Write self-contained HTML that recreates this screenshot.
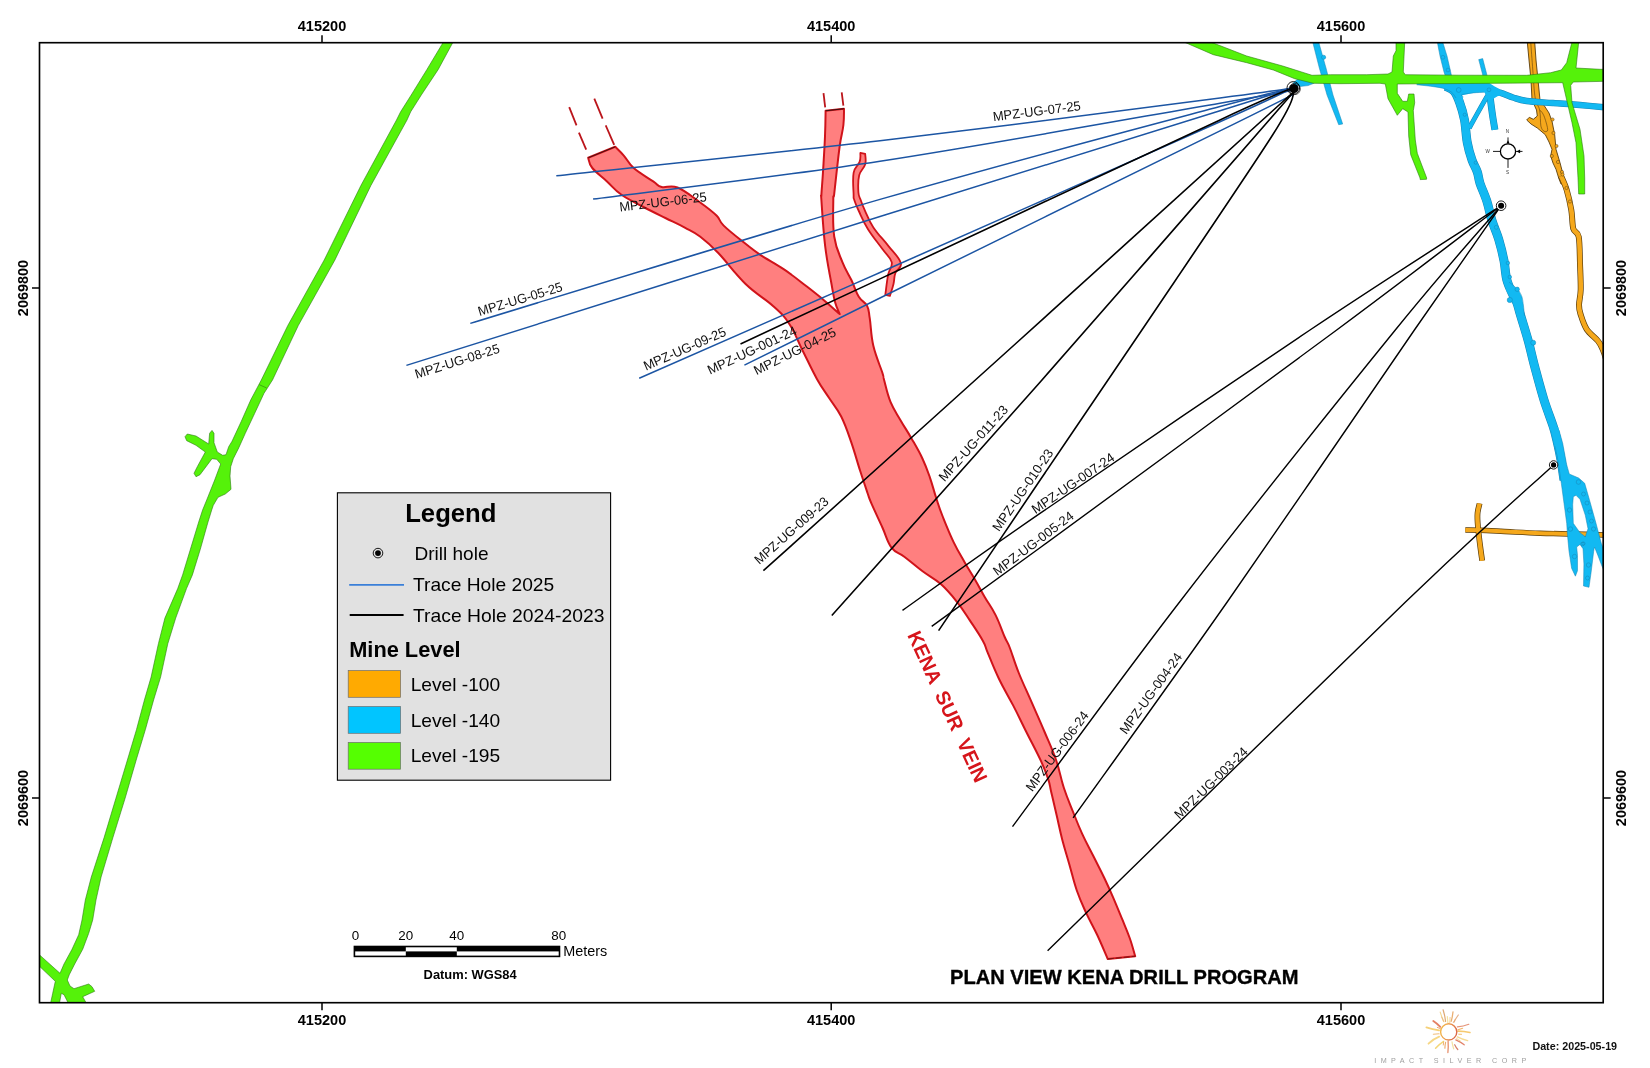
<!DOCTYPE html>
<html><head><meta charset="utf-8"><title>Plan View Kena Drill Program</title>
<style>html,body{margin:0;padding:0;background:#fff;}body{width:1650px;height:1068px;overflow:hidden;}svg{display:block;}text{font-family:"Liberation Sans",sans-serif;}</style>
</head><body>
<svg width="1650" height="1068" viewBox="0 0 1650 1068">
<rect x="0" y="0" width="1650" height="1068" fill="#ffffff"/>
<g style="opacity:0.999">
<defs><clipPath id="fc"><rect x="39.5" y="42.7" width="1563.7" height="960.0"/></clipPath></defs>
<g clip-path="url(#fc)">
<g id="orange">
<polygon points="1527.3,42.0 1529.0,60.0 1531.0,80.0 1532.0,100.0 1536.5,110.0 1537.3,116.0 1533.3,119.3 1529.3,117.3 1526.7,120.0 1531.0,124.0 1537.3,128.0 1545.3,134.7 1549.0,142.0 1552.0,149.3 1550.7,156.0 1553.0,163.0 1556.0,169.3 1558.7,178.0 1561.0,184.0 1566.0,184.0 1564.0,178.0 1560.0,162.7 1556.0,149.3 1554.7,134.7 1552.0,121.3 1549.0,113.0 1544.0,105.3 1540.0,100.0 1538.0,80.0 1536.0,60.0 1534.7,42.0" fill="#f5a81c" stroke="#5a3d0c" stroke-width="0.9" stroke-linejoin="round"/>
<path d="M1530.8 43.0 C1531.1 47.5 1532.1 60.8 1532.8 70.0 C1533.5 79.2 1534.0 91.3 1535.2 98.0 C1536.4 104.7 1538.8 105.7 1539.7 110.4 C1540.7 115.1 1540.2 122.6 1540.9 126.1 C1541.7 129.6 1543.1 130.7 1544.2 131.3 C1545.3 131.9 1547.6 132.1 1547.7 129.8 C1547.8 127.6 1545.7 120.8 1544.7 117.8 C1543.7 114.8 1542.5 113.1 1541.7 111.9 C1540.9 110.7 1540.0 110.7 1539.7 110.4" fill="none" stroke="#5a3d0c" stroke-width="0.6"/>
<path d="M1561.0 176.0 C1562.0 178.3 1565.0 184.3 1566.7 190.0 C1568.4 195.7 1570.2 203.6 1571.3 210.0 C1572.4 216.4 1572.1 224.2 1573.3 228.7 C1574.5 233.1 1577.6 230.9 1578.7 236.7 C1579.8 242.5 1579.7 254.4 1580.0 263.3 C1580.3 272.2 1580.9 283.1 1580.7 290.0 C1580.5 296.9 1579.0 301.0 1579.0 305.0 C1579.0 309.0 1579.2 309.9 1580.5 314.0 C1581.8 318.1 1583.8 324.8 1586.7 329.3 C1589.6 333.8 1595.3 337.6 1598.0 341.0 C1600.7 344.4 1601.5 346.5 1603.0 350.0 C1604.5 353.5 1606.3 360.0 1607.0 362.0" fill="none" stroke="#5a3d0c" stroke-width="6.0" stroke-linecap="butt" stroke-linejoin="round"/>
<path d="M1561.0 176.0 C1562.0 178.3 1565.0 184.3 1566.7 190.0 C1568.4 195.7 1570.2 203.6 1571.3 210.0 C1572.4 216.4 1572.1 224.2 1573.3 228.7 C1574.5 233.1 1577.6 230.9 1578.7 236.7 C1579.8 242.5 1579.7 254.4 1580.0 263.3 C1580.3 272.2 1580.9 283.1 1580.7 290.0 C1580.5 296.9 1579.0 301.0 1579.0 305.0 C1579.0 309.0 1579.2 309.9 1580.5 314.0 C1581.8 318.1 1583.8 324.8 1586.7 329.3 C1589.6 333.8 1595.3 337.6 1598.0 341.0 C1600.7 344.4 1601.5 346.5 1603.0 350.0 C1604.5 353.5 1606.3 360.0 1607.0 362.0" fill="none" stroke="#f5a81c" stroke-width="4.6" stroke-linecap="butt" stroke-linejoin="round"/>
<circle cx="1552.5" cy="119.5" r="1.6" fill="#f5a81c" stroke="#5a3d0c" stroke-width="0.5"/>
<circle cx="1553.5" cy="133.0" r="1.6" fill="#f5a81c" stroke="#5a3d0c" stroke-width="0.5"/>
<circle cx="1556.5" cy="146.0" r="1.6" fill="#f5a81c" stroke="#5a3d0c" stroke-width="0.5"/>
<circle cx="1551.8" cy="156.0" r="1.6" fill="#f5a81c" stroke="#5a3d0c" stroke-width="0.5"/>
<circle cx="1558.0" cy="162.0" r="1.6" fill="#f5a81c" stroke="#5a3d0c" stroke-width="0.5"/>
<circle cx="1562.0" cy="172.0" r="1.6" fill="#f5a81c" stroke="#5a3d0c" stroke-width="0.5"/>
<circle cx="1562.5" cy="174.5" r="1.6" fill="#f5a81c" stroke="#5a3d0c" stroke-width="0.5"/>
<circle cx="1566.5" cy="188.0" r="1.6" fill="#f5a81c" stroke="#5a3d0c" stroke-width="0.5"/>
<circle cx="1570.0" cy="201.5" r="1.6" fill="#f5a81c" stroke="#5a3d0c" stroke-width="0.5"/>
<path d="M1465.3 530.0 C1467.8 530.0 1472.5 529.9 1480.0 530.2 C1487.5 530.5 1500.0 531.3 1510.0 531.8 C1520.0 532.3 1529.2 532.8 1540.0 533.2 C1550.8 533.6 1564.0 533.7 1575.0 534.0 C1586.0 534.3 1600.8 534.8 1606.0 535.0" fill="none" stroke="#5a3d0c" stroke-width="5.4" stroke-linecap="butt" stroke-linejoin="round"/>
<path d="M1479.6 503.5 C1479.3 505.0 1477.9 509.6 1477.6 512.7 C1477.3 515.8 1477.4 518.8 1477.6 522.0 C1477.8 525.2 1478.1 528.2 1478.5 532.0 C1478.9 535.8 1479.4 539.9 1480.0 544.7 C1480.6 549.5 1481.8 558.0 1482.2 560.7" fill="none" stroke="#5a3d0c" stroke-width="5.8" stroke-linecap="butt" stroke-linejoin="round"/>
<path d="M1465.3 530.0 C1467.8 530.0 1472.5 529.9 1480.0 530.2 C1487.5 530.5 1500.0 531.3 1510.0 531.8 C1520.0 532.3 1529.2 532.8 1540.0 533.2 C1550.8 533.6 1564.0 533.7 1575.0 534.0 C1586.0 534.3 1600.8 534.8 1606.0 535.0" fill="none" stroke="#f5a81c" stroke-width="4.0" stroke-linecap="butt" stroke-linejoin="round"/>
<path d="M1479.6 503.5 C1479.3 505.0 1477.9 509.6 1477.6 512.7 C1477.3 515.8 1477.4 518.8 1477.6 522.0 C1477.8 525.2 1478.1 528.2 1478.5 532.0 C1478.9 535.8 1479.4 539.9 1480.0 544.7 C1480.6 549.5 1481.8 558.0 1482.2 560.7" fill="none" stroke="#f5a81c" stroke-width="4.4" stroke-linecap="butt" stroke-linejoin="round"/>
</g>
<g id="blue">
<polygon points="1297.3,79.5 1292.8,83.3 1300.0,86.5 1308.0,85.6 1314.0,83.3 1310.0,79.0" fill="#12b9f2" stroke="#1784b4" stroke-width="0.5" stroke-linejoin="round"/>
<polygon points="1312.7,42.0 1319.3,68.0 1327.0,95.0 1338.7,124.7 1342.7,124.0 1333.0,95.0 1326.0,68.0 1318.7,42.0" fill="#12b9f2" stroke="#1784b4" stroke-width="0.5" stroke-linejoin="round"/>
<circle cx="1323.6" cy="57.3" r="2.1" fill="#12b9f2" stroke="#1784b4" stroke-width="0.5"/>
<polygon points="1437.3,42.0 1440.0,56.0 1444.0,72.0 1446.0,78.0 1452.0,78.0 1450.7,72.0 1447.0,56.0 1442.7,42.0" fill="#12b9f2" stroke="#1784b4" stroke-width="0.5" stroke-linejoin="round"/>
<circle cx="1442.9" cy="57.3" r="1.9" fill="#12b9f2" stroke="#1784b4" stroke-width="0.5"/>
<circle cx="1448" cy="70" r="1.9" fill="#12b9f2" stroke="#1784b4" stroke-width="0.5"/>
<polygon points="1478.7,59.6 1482.7,58.6 1486.7,74.0 1487.5,78.0 1483.3,78.0 1482.5,74.0" fill="#12b9f2" stroke="#1784b4" stroke-width="0.5" stroke-linejoin="round"/>
<path d="M1446.0 86.5 C1447.3 87.2 1451.7 88.3 1454.0 91.0 C1456.3 93.7 1458.0 97.9 1459.7 102.7 C1461.5 107.5 1463.2 113.3 1464.5 120.0 C1465.8 126.7 1466.0 136.0 1467.3 142.7 C1468.5 149.4 1470.3 155.1 1472.0 160.0 C1473.7 164.9 1476.0 168.1 1477.3 172.0 C1478.6 175.9 1478.4 178.5 1480.0 183.3 C1481.6 188.1 1484.7 194.5 1486.7 200.7 C1488.7 206.9 1490.0 214.3 1492.0 220.7 C1494.0 227.1 1496.7 232.6 1498.7 239.3 C1500.7 246.0 1502.7 254.0 1504.0 260.7 C1505.3 267.4 1505.3 273.8 1506.7 279.3 C1508.1 284.9 1510.8 290.1 1512.5 294.0 C1514.2 297.9 1515.8 299.8 1517.0 303.0 C1518.2 306.2 1518.2 307.1 1520.0 313.3 C1521.8 319.5 1525.5 331.1 1528.0 340.0 C1530.5 348.9 1532.0 356.7 1534.7 366.7 C1537.4 376.7 1540.9 390.0 1544.0 400.0 C1547.1 410.0 1551.0 419.5 1553.3 426.7 C1555.5 433.9 1556.2 437.4 1557.5 443.0 C1558.8 448.6 1559.9 453.8 1561.0 460.0 C1562.1 466.2 1563.5 476.7 1564.0 480.0" fill="none" stroke="#1784b4" stroke-width="9.0" stroke-linecap="butt" stroke-linejoin="round"/>
<path d="M1486.0 90.5 C1488.3 90.9 1495.5 91.5 1500.0 92.7 C1504.5 93.9 1508.5 96.1 1513.0 97.5 C1517.5 98.9 1520.0 100.1 1526.7 101.0 C1533.4 101.9 1544.1 102.3 1553.0 103.0 C1561.9 103.7 1571.2 104.2 1580.0 105.0 C1588.8 105.8 1601.7 107.1 1606.0 107.5" fill="none" stroke="#1784b4" stroke-width="6.4" stroke-linecap="butt" stroke-linejoin="round"/>
<path d="M1490.5 90.5 C1488.9 93.2 1484.5 100.8 1481.0 107.0 C1477.5 113.2 1471.2 124.5 1469.3 128.0" fill="none" stroke="#1784b4" stroke-width="4.8" stroke-linecap="butt" stroke-linejoin="round"/>
<path d="M1489.5 90.0 C1489.7 91.7 1490.0 95.8 1490.5 100.0 C1491.0 104.2 1491.8 110.0 1492.5 115.0 C1493.2 120.0 1494.5 127.3 1494.9 129.8" fill="none" stroke="#1784b4" stroke-width="7.0" stroke-linecap="butt" stroke-linejoin="round"/>
<path d="M1446.0 86.5 C1447.3 87.2 1451.7 88.3 1454.0 91.0 C1456.3 93.7 1458.0 97.9 1459.7 102.7 C1461.5 107.5 1463.2 113.3 1464.5 120.0 C1465.8 126.7 1466.0 136.0 1467.3 142.7 C1468.5 149.4 1470.3 155.1 1472.0 160.0 C1473.7 164.9 1476.0 168.1 1477.3 172.0 C1478.6 175.9 1478.4 178.5 1480.0 183.3 C1481.6 188.1 1484.7 194.5 1486.7 200.7 C1488.7 206.9 1490.0 214.3 1492.0 220.7 C1494.0 227.1 1496.7 232.6 1498.7 239.3 C1500.7 246.0 1502.7 254.0 1504.0 260.7 C1505.3 267.4 1505.3 273.8 1506.7 279.3 C1508.1 284.9 1510.8 290.1 1512.5 294.0 C1514.2 297.9 1515.8 299.8 1517.0 303.0 C1518.2 306.2 1518.2 307.1 1520.0 313.3 C1521.8 319.5 1525.5 331.1 1528.0 340.0 C1530.5 348.9 1532.0 356.7 1534.7 366.7 C1537.4 376.7 1540.9 390.0 1544.0 400.0 C1547.1 410.0 1551.0 419.5 1553.3 426.7 C1555.5 433.9 1556.2 437.4 1557.5 443.0 C1558.8 448.6 1559.9 453.8 1561.0 460.0 C1562.1 466.2 1563.5 476.7 1564.0 480.0" fill="none" stroke="#12b9f2" stroke-width="8.0" stroke-linecap="butt" stroke-linejoin="round"/>
<path d="M1486.0 90.5 C1488.3 90.9 1495.5 91.5 1500.0 92.7 C1504.5 93.9 1508.5 96.1 1513.0 97.5 C1517.5 98.9 1520.0 100.1 1526.7 101.0 C1533.4 101.9 1544.1 102.3 1553.0 103.0 C1561.9 103.7 1571.2 104.2 1580.0 105.0 C1588.8 105.8 1601.7 107.1 1606.0 107.5" fill="none" stroke="#12b9f2" stroke-width="5.4" stroke-linecap="butt" stroke-linejoin="round"/>
<path d="M1490.5 90.5 C1488.9 93.2 1484.5 100.8 1481.0 107.0 C1477.5 113.2 1471.2 124.5 1469.3 128.0" fill="none" stroke="#12b9f2" stroke-width="3.8" stroke-linecap="butt" stroke-linejoin="round"/>
<path d="M1489.5 90.0 C1489.7 91.7 1490.0 95.8 1490.5 100.0 C1491.0 104.2 1491.8 110.0 1492.5 115.0 C1493.2 120.0 1494.5 127.3 1494.9 129.8" fill="none" stroke="#12b9f2" stroke-width="6.0" stroke-linecap="butt" stroke-linejoin="round"/>
<polygon points="1416.7,82.7 1416.7,84.8 1430.7,86.3 1442.7,88.3 1451.3,92.0 1457.3,100.0 1463.2,100.0 1462.2,95.3 1473.3,92.9 1484.0,92.3 1486.7,95.3 1493.3,98.7 1498.0,96.0 1500.0,96.0 1500.0,89.3 1494.7,86.4 1489.3,82.9" fill="#12b9f2"/>
<path d="M1416.7 84.8 C1419.0 85.0 1426.4 85.7 1430.7 86.3 C1435.0 86.9 1439.3 87.3 1442.7 88.3 C1446.1 89.2 1449.1 90.4 1451.3 92.0 C1453.5 93.6 1455.2 97.0 1456.0 98.0" fill="none" stroke="#1784b4" stroke-width="0.5"/>
<path d="M1463.5 97.0 C1463.2 96.6 1460.2 95.4 1461.8 94.7 C1463.4 94.0 1469.6 93.3 1473.3 92.9 C1477.0 92.5 1482.2 92.4 1484.0 92.3" fill="none" stroke="#1784b4" stroke-width="0.5"/>
<polygon points="1509.0,283.0 1514.0,286.0 1519.0,291.0 1522.0,297.0 1523.5,306.0 1524.0,314.0 1519.0,314.0 1512.0,300.0 1506.0,290.0" fill="#12b9f2"/>
<path d="M1509.0 282.0 C1509.8 282.7 1512.3 284.5 1514.0 286.0 C1515.7 287.5 1517.7 289.2 1519.0 291.0 C1520.3 292.8 1521.2 294.5 1522.0 297.0 C1522.8 299.5 1523.1 302.8 1523.5 306.0 C1523.9 309.2 1524.3 314.3 1524.5 316.0" fill="none" stroke="#1784b4" stroke-width="0.5"/>
<circle cx="1458.7" cy="90.0" r="2.4" fill="#12b9f2" stroke="#1784b4" stroke-width="0.5"/>
<circle cx="1489.0" cy="89.8" r="1.9" fill="#12b9f2" stroke="#1784b4" stroke-width="0.5"/>
<circle cx="1464.7" cy="114.7" r="1.6" fill="#12b9f2" stroke="#1784b4" stroke-width="0.5"/>
<circle cx="1475.7" cy="162.7" r="1.6" fill="#12b9f2" stroke="#1784b4" stroke-width="0.5"/>
<circle cx="1496.3" cy="227.3" r="2.0" fill="#12b9f2" stroke="#1784b4" stroke-width="0.5"/>
<circle cx="1507.9" cy="263.0" r="1.8" fill="#12b9f2" stroke="#1784b4" stroke-width="0.5"/>
<circle cx="1509.8" cy="277.0" r="1.8" fill="#12b9f2" stroke="#1784b4" stroke-width="0.5"/>
<circle cx="1517.2" cy="289.3" r="2.2" fill="#12b9f2" stroke="#1784b4" stroke-width="0.5"/>
<circle cx="1509.8" cy="300.0" r="2.6" fill="#12b9f2" stroke="#1784b4" stroke-width="0.5"/>
<circle cx="1533.2" cy="342.7" r="2.5" fill="#12b9f2" stroke="#1784b4" stroke-width="0.5"/>
<path d="M1551.0 430.0 L1554.0 443.0 L1557.3 456.7 L1561.3 483.3 L1564.0 503.3 L1566.7 523.3 L1567.4 534.2 L1569.0 551.2 L1571.6 568.2 L1575.4 576.2 L1577.5 570.7 L1577.5 555.4 L1576.7 547.0 L1580.0 544.4 L1583.0 548.7 L1583.9 563.9 L1583.5 586.0 L1589.0 587.3 L1591.1 572.4 L1593.7 551.2 L1594.5 547.0 L1597.9 555.4 L1602.1 566.5 L1608.0 580.0 L1608.0 560.0 L1601.3 543.3 L1596.0 523.3 L1589.3 499.3 L1584.7 483.3 L1578.7 478.0 L1569.3 474.0 L1566.7 464.7 L1562.7 443.3 L1559.0 430.0Z M1576.0 495.3 L1580.0 499.3 L1585.3 515.3 L1588.0 528.7 L1585.3 536.7 L1580.0 532.7 L1573.3 523.3 L1572.7 504.7 L1573.3 496.7Z" fill="#12b9f2" fill-rule="evenodd" stroke="#1784b4" stroke-width="0.5" stroke-linejoin="round"/>
<polygon points="1550.2,427.0 1558.2,427.0 1562.2,446.0 1554.6,446.0" fill="#12b9f2"/>
<circle cx="1578.5" cy="482.0" r="2.3" fill="none" stroke="#1784b4" stroke-width="0.5"/>
<circle cx="1583.5" cy="494.0" r="2.0" fill="none" stroke="#1784b4" stroke-width="0.5"/>
<circle cx="1587.0" cy="503.0" r="2.0" fill="none" stroke="#1784b4" stroke-width="0.5"/>
<circle cx="1590.0" cy="512.0" r="2.0" fill="none" stroke="#1784b4" stroke-width="0.5"/>
<circle cx="1591.5" cy="521.0" r="2.0" fill="none" stroke="#1784b4" stroke-width="0.5"/>
<circle cx="1593.5" cy="529.0" r="2.1" fill="none" stroke="#1784b4" stroke-width="0.5"/>
<circle cx="1569.5" cy="510.0" r="2.2" fill="none" stroke="#1784b4" stroke-width="0.5"/>
<circle cx="1570.5" cy="529.0" r="2.2" fill="none" stroke="#1784b4" stroke-width="0.5"/>
<circle cx="1574.5" cy="556.5" r="2.2" fill="none" stroke="#1784b4" stroke-width="0.5"/>
<circle cx="1582.5" cy="544.0" r="1.8" fill="none" stroke="#1784b4" stroke-width="0.5"/>
<circle cx="1588.5" cy="565.0" r="2.2" fill="none" stroke="#1784b4" stroke-width="0.5"/>
<circle cx="1587.5" cy="578.0" r="2.0" fill="none" stroke="#1784b4" stroke-width="0.5"/>
<circle cx="1583.5" cy="543.5" r="1.6" fill="none" stroke="#1784b4" stroke-width="0.5"/>
</g>
<g id="green">
<polygon points="443.4,42.0 426.8,69.7 411.2,95.0 400.6,111.8 396.5,120.0 360.9,185.5 324.2,260.0 287.8,325.5 261.3,380.0 250.7,400.0 241.3,421.3 232.0,441.3 228.7,446.7 226.0,454.7 222.7,455.3 217.3,452.0 214.0,442.7 214.0,433.3 212.0,430.4 209.6,433.3 208.7,444.0 196.0,436.0 187.3,434.0 185.0,436.7 186.7,440.7 196.0,445.3 205.3,452.0 197.3,466.7 194.0,473.3 196.0,476.7 200.0,474.7 212.0,458.7 216.7,459.3 220.7,464.0 214.7,480.0 206.7,500.0 202.6,510.0 198.7,522.0 190.4,549.3 182.6,574.9 177.7,588.6 164.9,618.1 158.4,643.7 151.1,677.1 144.4,700.0 136.5,729.5 127.7,759.0 115.9,798.3 104.1,837.6 91.3,877.0 85.3,900.0 82.0,920.0 78.7,934.7 72.0,949.3 64.0,964.0 60.0,973.3 38.0,953.5 38.0,964.9 55.3,981.3 52.7,993.3 50.4,1004.0 59.3,1004.0 61.3,993.3 64.0,994.7 68.7,1004.0 86.8,1004.0 82.7,996.7 94.7,991.3 92.0,986.7 88.7,984.0 74.0,988.7 70.0,986.0 67.3,980.0 69.3,974.7 74.7,964.0 82.7,949.3 88.7,933.3 92.7,920.0 96.0,900.0 101.1,877.0 112.9,837.6 125.1,798.3 136.5,759.0 145.4,729.5 153.6,700.0 160.6,677.1 167.8,643.7 175.7,618.1 186.5,588.6 192.4,574.9 200.3,549.3 208.0,522.0 211.7,510.0 213.3,505.3 218.0,497.3 225.3,494.0 231.0,489.3 230.0,476.0 230.7,466.7 233.3,458.7 238.7,448.0 245.3,433.3 254.7,413.3 264.0,393.3 272.5,380.0 298.3,325.5 334.9,260.0 370.9,185.5 407.0,120.0 410.7,111.8 421.3,95.0 438.1,69.7 453.1,42.0" fill="#55f20a" stroke="#2b7a12" stroke-width="0.6" stroke-linejoin="round"/>
<path d="M259.3 384.7 L266.7 388" stroke="#2b7a12" stroke-width="0.6"/>
<polygon points="1184.0,42.0 1210.7,42.0 1246.7,56.0 1282.7,66.0 1312.0,75.3 1330.7,74.7 1366.7,74.7 1388.0,74.0 1392.0,72.0 1393.3,56.0 1396.0,50.7 1396.0,42.0 1404.7,42.0 1403.3,72.0 1405.3,74.7 1460.0,75.2 1526.7,75.3 1550.7,72.7 1561.3,70.0 1566.7,62.7 1572.0,42.0 1578.7,42.0 1576.0,68.0 1600.0,69.3 1606.0,69.3 1606.0,81.3 1573.3,82.0 1570.7,85.3 1572.0,102.7 1580.0,129.3 1584.0,156.0 1584.7,178.0 1584.7,194.0 1578.7,194.0 1578.0,178.0 1576.0,142.7 1572.0,122.7 1566.7,100.0 1562.7,82.7 1480.0,83.4 1397.3,84.0 1397.3,93.3 1402.7,101.3 1407.3,101.3 1408.7,94.0 1414.0,94.0 1414.7,102.7 1413.3,110.7 1415.3,140.0 1417.3,153.3 1426.7,178.0 1426.5,179.3 1420.2,179.6 1420.0,178.0 1410.7,154.7 1408.7,136.0 1408.0,112.0 1402.7,108.7 1397.3,115.3 1388.0,98.7 1385.3,84.0 1380.0,83.3 1340.0,83.7 1313.3,83.3 1294.7,78.7 1273.3,70.0 1246.7,62.7 1213.3,54.7" fill="#55f20a" stroke="#2b7a12" stroke-width="0.6" stroke-linejoin="round"/>
</g>
<g id="vein">
<path d="M588.2 157.8 C589.0 159.8 588.5 163.3 592.3 168.0 C596.1 172.7 601.2 176.0 607.0 181.4 C612.8 186.8 614.2 189.7 621.5 194.8 C628.8 199.9 634.7 202.4 643.5 207.0 C652.3 211.6 657.1 213.9 665.4 218.0 C673.7 222.1 677.9 223.9 684.8 227.6 C691.7 231.3 693.3 231.4 700.0 236.5 C706.7 241.6 709.2 243.5 718.3 253.0 C727.4 262.5 734.7 273.4 745.6 284.0 C756.5 294.6 764.2 297.9 773.0 305.9 C781.8 313.9 783.7 315.4 789.5 324.2 C795.3 333.0 796.7 338.8 802.2 349.7 C807.7 360.6 811.5 369.2 816.9 378.9 C822.3 388.6 824.4 390.8 829.3 398.3 C834.2 405.8 836.8 407.7 841.2 416.5 C845.6 425.3 847.4 431.1 851.2 442.1 C855.0 453.1 857.0 461.1 860.3 471.3 C863.6 481.5 865.4 486.7 867.6 493.2 C869.8 499.7 868.5 496.8 871.5 503.7 C874.5 510.6 878.4 518.7 882.4 527.5 C886.4 536.3 887.1 541.8 891.5 547.6 C895.9 553.4 898.1 552.0 904.3 556.7 C910.5 561.4 915.3 565.8 922.6 571.3 C929.9 576.8 933.9 577.9 940.8 584.1 C947.7 590.3 951.5 595.0 957.3 602.3 C963.1 609.6 964.9 612.9 970.0 620.6 C975.1 628.3 979.2 634.2 982.8 640.7 C986.4 647.2 984.6 645.3 987.8 652.9 C991.0 660.5 993.7 667.9 998.8 678.5 C1003.9 689.1 1007.9 695.3 1013.4 705.9 C1018.9 716.5 1020.6 720.5 1026.1 731.5 C1031.6 742.5 1036.4 751.2 1040.8 760.7 C1045.2 770.2 1046.0 772.7 1048.1 778.9 C1050.2 785.1 1049.5 784.6 1051.2 791.9 C1052.9 799.2 1054.5 806.1 1056.7 815.6 C1058.9 825.1 1059.6 829.5 1062.2 839.4 C1064.8 849.3 1066.6 854.7 1069.5 864.9 C1072.4 875.1 1073.5 881.0 1076.8 890.5 C1080.1 900.0 1081.9 903.6 1085.9 912.4 C1089.9 921.2 1092.5 925.0 1096.9 934.3 C1101.3 943.6 1105.6 954.1 1107.8 959.0 L1135.2 956.2 C1134.1 952.6 1132.3 945.3 1129.7 938.0 C1127.1 930.7 1125.7 927.7 1122.4 919.7 C1119.1 911.7 1116.9 906.2 1113.3 897.8 C1109.7 889.4 1108.2 886.1 1104.2 877.7 C1100.2 869.3 1097.6 864.6 1093.2 855.8 C1088.8 847.0 1086.2 842.7 1082.2 833.9 C1078.2 825.1 1076.7 821.1 1073.1 812.0 C1069.5 802.9 1067.4 798.6 1064.0 788.3 C1060.6 778.0 1060.2 772.1 1056.3 760.7 C1052.4 749.3 1049.3 743.2 1044.4 731.5 C1039.5 719.8 1036.7 713.9 1031.6 702.2 C1026.5 690.5 1023.2 683.9 1018.8 673.0 C1014.4 662.1 1012.5 654.7 1009.7 647.5 C1006.9 640.3 1007.5 643.5 1004.7 637.0 C1001.9 630.5 999.6 623.1 995.6 615.1 C991.6 607.1 988.7 603.8 984.7 596.9 C980.7 590.0 979.5 587.3 975.5 580.4 C971.5 573.5 969.0 569.9 964.6 562.2 C960.2 554.5 958.0 551.2 953.6 542.1 C949.2 533.0 946.2 525.3 942.7 516.5 C939.2 507.7 938.9 506.2 936.3 498.3 C933.7 490.4 932.5 484.8 929.7 476.8 C926.9 468.8 926.0 466.2 922.4 458.5 C918.8 450.8 915.9 446.1 911.5 438.4 C907.1 430.7 904.7 427.5 900.5 420.2 C896.3 412.9 893.8 409.9 890.5 401.9 C887.2 393.9 885.7 385.7 884.1 380.0 C882.5 374.3 884.7 380.3 882.6 373.5 C880.5 366.7 876.0 357.1 873.4 346.1 C870.8 335.1 871.1 326.7 869.8 318.7 C868.5 310.7 869.3 310.3 867.1 305.9 C864.9 301.5 861.9 301.9 858.8 296.8 C855.7 291.7 854.8 287.2 851.5 280.3 C848.2 273.4 845.9 270.9 842.4 262.1 C838.9 253.3 836.0 248.9 834.2 236.5 C832.4 224.1 833.3 208.3 833.3 200.0 C833.3 191.7 833.4 200.7 834.1 194.8 C834.8 188.9 835.6 180.6 836.8 170.4 C838.0 160.2 838.7 153.1 840.0 144.0 C841.3 134.9 842.6 132.1 843.4 125.0 C844.2 117.9 843.9 112.0 844.0 108.7 L825.6 110.8 C825.5 115.9 825.5 124.4 825.0 136.3 C824.5 148.2 823.8 158.7 823.1 170.4 C822.4 182.1 821.7 188.9 821.4 194.8 C821.1 200.7 820.7 189.8 821.4 200.0 C822.1 210.2 823.1 228.8 825.1 245.6 C827.1 262.4 829.5 272.7 831.5 284.0 C833.5 295.3 833.5 296.2 835.1 302.2 C836.7 308.2 838.8 311.7 839.7 314.1 L839.7 314.1 C836.6 311.4 831.0 306.1 824.2 300.4 C817.4 294.7 813.9 292.0 805.9 285.8 C797.9 279.6 793.1 275.6 784.0 269.4 C774.9 263.2 768.0 259.9 760.3 254.8 C752.6 249.7 752.9 249.6 745.6 243.8 C738.3 238.0 729.5 231.3 723.7 225.6 C717.9 219.9 721.3 220.2 716.5 215.5 C711.7 210.8 707.3 207.6 699.5 202.0 C691.7 196.4 685.1 190.5 677.5 187.5 C669.9 184.5 666.6 188.2 661.7 187.0 C656.8 185.8 658.8 185.2 653.2 181.4 C647.6 177.6 639.5 173.1 633.7 168.0 C627.9 162.9 627.7 160.0 624.0 155.8 C620.3 151.6 617.0 148.6 615.2 146.8Z" fill="#ff7f7f" stroke="#d0131a" stroke-width="2.0" stroke-linejoin="round"/>
<path d="M860.4 152.9 C860.2 154.7 861.0 157.9 859.6 161.9 C858.2 165.9 854.8 166.3 853.6 172.9 C852.4 179.5 853.5 189.4 853.6 194.8 C853.7 200.2 853.3 196.8 854.3 200.0 C855.3 203.2 856.1 205.2 858.8 211.0 C861.5 216.8 863.2 221.5 868.0 229.2 C872.8 236.9 877.9 242.7 882.6 249.3 C887.3 255.9 890.6 257.0 891.7 262.1 C892.8 267.2 889.4 268.3 888.1 274.9 C886.8 281.5 885.9 290.9 885.3 294.9 L889.9 295.9 C890.6 293.5 892.4 288.6 893.5 284.0 C894.6 279.4 893.9 277.2 895.4 273.0 C896.9 268.8 902.3 268.5 900.8 263.0 C899.3 257.5 893.6 252.7 888.1 245.6 C882.6 238.5 878.2 234.7 873.4 227.4 C868.6 220.1 866.8 214.6 864.3 209.1 C861.8 203.6 861.9 203.4 860.7 200.0 C859.5 196.6 858.7 197.2 858.4 192.3 C858.1 187.4 857.8 180.9 859.2 175.3 C860.6 169.7 864.0 168.6 865.2 164.3 C866.4 160.0 865.2 156.0 865.2 153.9Z" fill="#ff7f7f" stroke="#d0131a" stroke-width="1.8" stroke-linejoin="round"/>
<path d="M588.2 157.8 L615.2 146.8" stroke="#3a1010" stroke-width="0.9"/>
<path d="M825.6 110.8 L844.0 108.7" stroke="#3a1010" stroke-width="1.0"/>
<path d="M1107.8 959 L1135.2 956.2" stroke="#7a1414" stroke-width="1" stroke-dasharray="6 2"/>
<path d="M569.2 107.1 L576.5 125.4" stroke="#bb151b" stroke-width="1.8"/>
<path d="M578.9 132.7 L586.2 149.7" stroke="#bb151b" stroke-width="1.8"/>
<path d="M594.3 98.6 L602.6 118.6" stroke="#bb151b" stroke-width="1.8"/>
<path d="M605.7 125.4 L614.2 144.9" stroke="#bb151b" stroke-width="1.8"/>
<path d="M823.5 93.1 L825.2 107.3" stroke="#bb151b" stroke-width="1.8"/>
<path d="M841.7 92.3 L843.4 105.6" stroke="#bb151b" stroke-width="1.8"/>
</g>
<g id="traces" fill="none" stroke-linecap="butt">
<path d="M1292.8 88.0 C1280.7 89.7 1288.8 89.2 1220.0 98.0 C1151.2 106.8 990.6 127.8 880.0 140.8 C769.4 153.8 610.2 170.0 556.3 175.8" stroke="#1c55a3" stroke-width="1.50"/>
<path d="M1293.2 90.3 C1281.0 92.5 1288.9 91.4 1220.0 103.2 C1151.1 115.0 984.5 145.2 880.0 161.2 C775.5 177.2 640.9 192.8 593.1 199.1" stroke="#1c55a3" stroke-width="1.50"/>
<path d="M1292.8 88.0 C1280.7 91.1 1288.8 87.9 1220.0 106.5 C1151.2 125.1 1005.0 163.2 880.0 199.4 C755.0 235.6 538.6 302.7 470.3 323.4" stroke="#1c55a3" stroke-width="1.50"/>
<path d="M1292.8 88.0 C1280.7 91.8 1288.8 89.4 1220.0 110.8 C1151.2 132.2 1015.6 174.1 880.0 216.5 C744.4 258.9 485.3 340.6 406.4 365.4" stroke="#1c55a3" stroke-width="1.50"/>
<path d="M1292.8 88.0 C1280.7 93.6 1288.8 91.0 1220.0 121.7 C1151.2 152.4 976.8 229.8 880.0 272.5 C783.2 315.2 679.3 360.6 639.2 378.2" stroke="#1c55a3" stroke-width="1.50"/>
<path d="M1294.0 94.0 C1281.7 100.2 1289.0 96.9 1220.0 130.9 C1151.0 164.9 959.3 258.9 880.0 298.0 C800.7 337.1 767.0 354.0 744.4 365.2" stroke="#1c55a3" stroke-width="1.50"/>
<path d="M1292.8 88.0 C1280.7 93.3 1288.8 88.1 1220.0 119.9 C1151.2 151.7 959.9 241.6 880.0 278.9 C800.1 316.2 763.8 333.1 740.5 343.9" stroke="#000" stroke-width="1.60"/>
<path d="M1294.5 91.0 C1248.3 132.8 1106.0 262.1 1017.5 342.0 C929.0 421.9 805.8 532.6 763.4 570.7" stroke="#000" stroke-width="1.60"/>
<path d="M1294.5 91.0 C1252.1 139.5 1117.1 294.8 1040.0 382.2 C962.9 469.6 866.5 576.6 831.8 615.5" stroke="#000" stroke-width="1.60"/>
<path d="M1294.5 91.0 C1290.8 98.3 1298.0 95.2 1272.6 135.0 C1247.2 174.8 1180.7 272.4 1141.9 330.0 C1103.1 387.6 1073.9 430.2 1040.0 480.3 C1006.1 530.4 955.5 605.6 938.6 630.6" stroke="#000" stroke-width="1.60"/>
<path d="M1501.1 205.7 C1469.2 226.4 1386.8 278.7 1310.0 330.0 C1233.2 381.3 1107.9 466.7 1040.0 513.4 C972.1 560.1 925.4 594.2 902.5 610.4" stroke="#000" stroke-width="1.40"/>
<path d="M1501.1 205.7 C1473.7 226.4 1413.5 273.0 1336.7 330.0 C1259.9 387.0 1107.5 498.4 1040.0 547.8 C972.5 597.2 949.8 613.3 931.7 626.4" stroke="#000" stroke-width="1.40"/>
<path d="M1501.1 205.7 C1483.5 226.4 1448.9 263.9 1395.3 330.0 C1341.7 396.1 1243.4 519.2 1179.6 602.0 C1115.8 684.8 1040.3 789.2 1012.5 826.6" stroke="#000" stroke-width="1.40"/>
<path d="M1501.1 205.7 C1486.6 226.4 1460.1 263.9 1414.4 330.0 C1368.8 396.1 1284.1 520.7 1227.2 602.0 C1170.3 683.3 1098.8 781.8 1073.1 817.8" stroke="#000" stroke-width="1.40"/>
<path d="M1553.6 464.9 C1528.9 487.8 1489.8 521.0 1405.5 602.0 C1321.2 683.0 1107.2 892.7 1047.6 950.8" stroke="#000" stroke-width="1.40"/>
</g>
<g id="collars">
<circle cx="1294.0" cy="88.5" r="4.6" fill="#000"/><circle cx="1293.3" cy="87.9" r="6.3" fill="none" stroke="#000" stroke-width="0.9"/>
<circle cx="1294.7" cy="89.0" r="5.6" fill="none" stroke="#000" stroke-width="0.7"/>
<circle cx="1501.1" cy="205.7" r="4.8" fill="#fff"/>
<circle cx="1501.1" cy="205.7" r="3.0" fill="#000"/><circle cx="1501.1" cy="205.7" r="4.8" fill="none" stroke="#000" stroke-width="0.9"/>
<circle cx="1553.6" cy="464.9" r="4.2" fill="#fff"/>
<circle cx="1553.6" cy="464.9" r="2.6" fill="#000"/><circle cx="1553.6" cy="464.9" r="4.2" fill="none" stroke="#000" stroke-width="0.9"/>
</g>
<g id="labels" font-size="13.2" fill="#111" text-anchor="middle">
<text transform="translate(1037.3 115.6) rotate(-7.2)" textLength="88.5" lengthAdjust="spacingAndGlyphs">MPZ-UG-07-25</text>
<text transform="translate(663.5 206.3) rotate(-6.8)" textLength="87.8" lengthAdjust="spacingAndGlyphs">MPZ-UG-06-25</text>
<text transform="translate(521.5 303.4) rotate(-16.8)" textLength="87.5" lengthAdjust="spacingAndGlyphs">MPZ-UG-05-25</text>
<text transform="translate(458.5 365.5) rotate(-17.4)" textLength="88.0" lengthAdjust="spacingAndGlyphs">MPZ-UG-08-25</text>
<text transform="translate(686.5 352.9) rotate(-23.7)" textLength="88.5" lengthAdjust="spacingAndGlyphs">MPZ-UG-09-25</text>
<text transform="translate(753.9 354.3) rotate(-25.0)" textLength="97.0" lengthAdjust="spacingAndGlyphs">MPZ-UG-001-24</text>
<text transform="translate(796.7 355.3) rotate(-26.4)" textLength="90.0" lengthAdjust="spacingAndGlyphs">MPZ-UG-04-25</text>
<text transform="translate(794.4 533.9) rotate(-41.5)" textLength="94.0" lengthAdjust="spacingAndGlyphs">MPZ-UG-009-23</text>
<text transform="translate(1075.5 487.0) rotate(-34.2)" textLength="97.0" lengthAdjust="spacingAndGlyphs">MPZ-UG-007-24</text>
<text transform="translate(1060.8 753.8) rotate(-53.3)" textLength="95.7" lengthAdjust="spacingAndGlyphs">MPZ-UG-006-24</text>
<text transform="translate(976.6 446.2) rotate(-48.2)" textLength="96.5" lengthAdjust="spacingAndGlyphs">MPZ-UG-011-23</text>
<text transform="translate(1026.5 492.7) rotate(-55.3)" textLength="96.5" lengthAdjust="spacingAndGlyphs">MPZ-UG-010-23</text>
<text transform="translate(1036.0 547.0) rotate(-37.0)" textLength="97.1" lengthAdjust="spacingAndGlyphs">MPZ-UG-005-24</text>
<text transform="translate(1154.5 696.0) rotate(-54.1)" textLength="96.5" lengthAdjust="spacingAndGlyphs">MPZ-UG-004-24</text>
<text transform="translate(1214.1 786.3) rotate(-44.0)" textLength="96.5" lengthAdjust="spacingAndGlyphs">MPZ-UG-003-24</text>
</g>
<text transform="translate(907 635) rotate(65.3)" font-size="20" font-weight="bold" fill="#d6151b" textLength="164" lengthAdjust="spacingAndGlyphs" xml:space="preserve">KENA  SUR  VEIN</text>
</g>
<g id="compass" stroke="#000" fill="none">
<circle cx="1508.0" cy="151.4" r="7.6" stroke-width="1.3" fill="#fff"/>
<path d="M1508.0 143.4 V137.4 M1508.0 159.4 V167.9 M1500.0 151.4 H1493.0 M1516.0 151.4 H1522.5" stroke-width="0.9"/>
<path d="M1508.0 140.2 l-1.6 3.4 h3.2z" fill="#000" stroke="none"/>
<path d="M1516.5 151.4 l3.6 -1.8 v3.6z" fill="#000" stroke="none"/>
</g>
<g font-size="4.6" fill="#333" text-anchor="middle"><text x="1507.5" y="133.0">N</text><text x="1507.5" y="173.6">S</text><text x="1487.7" y="153.4">W</text></g>
<rect x="39.5" y="42.7" width="1563.7" height="960.0" fill="none" stroke="#000" stroke-width="1.65"/>
<g stroke="#000" stroke-width="1.5">
<path d="M322.0 42.7 V35.2 M322.0 1002.7 V1010.2"/>
<path d="M831.2 42.7 V35.2 M831.2 1002.7 V1010.2"/>
<path d="M1341.0 42.7 V35.2 M1341.0 1002.7 V1010.2"/>
<path d="M39.5 288.0 H32.0 M1603.2 288.0 H1610.7"/>
<path d="M39.5 798.0 H32.0 M1603.2 798.0 H1610.7"/>
</g>
<g font-size="14.4" font-weight="bold" fill="#000" text-anchor="middle">
<text x="322.0" y="31.2" textLength="48.5" lengthAdjust="spacingAndGlyphs">415200</text>
<text x="322.0" y="1024.6" textLength="48.5" lengthAdjust="spacingAndGlyphs">415200</text>
<text x="831.2" y="31.2" textLength="48.5" lengthAdjust="spacingAndGlyphs">415400</text>
<text x="831.2" y="1024.6" textLength="48.5" lengthAdjust="spacingAndGlyphs">415400</text>
<text x="1341.0" y="31.2" textLength="48.5" lengthAdjust="spacingAndGlyphs">415600</text>
<text x="1341.0" y="1024.6" textLength="48.5" lengthAdjust="spacingAndGlyphs">415600</text>
<text transform="translate(28.2 288.0) rotate(-90)" textLength="56.3" lengthAdjust="spacingAndGlyphs">2069800</text>
<text transform="translate(1625.6 288.0) rotate(-90)" textLength="56.3" lengthAdjust="spacingAndGlyphs">2069800</text>
<text transform="translate(28.2 798.0) rotate(-90)" textLength="56.3" lengthAdjust="spacingAndGlyphs">2069600</text>
<text transform="translate(1625.6 798.0) rotate(-90)" textLength="56.3" lengthAdjust="spacingAndGlyphs">2069600</text>
</g>
<g id="legend">
<rect x="337.4" y="492.8" width="273.2" height="287.4" fill="#e1e1e1" stroke="#000" stroke-width="1.1"/>
<text x="405.2" y="522.4" font-size="26" font-weight="bold" textLength="91.3" lengthAdjust="spacingAndGlyphs">Legend</text>
<circle cx="378" cy="553.1" r="2.9" fill="#000"/><circle cx="378" cy="553.1" r="4.8" fill="none" stroke="#000" stroke-width="0.9"/>
<text x="414.4" y="559.9" font-size="19" textLength="74.1" lengthAdjust="spacingAndGlyphs">Drill hole</text>
<path d="M349.2 584.9 H404" stroke="#3a7fd8" stroke-width="1.8"/>
<text x="413" y="591.4" font-size="19" textLength="141.2" lengthAdjust="spacingAndGlyphs">Trace Hole 2025</text>
<path d="M349.7 615 H403.6" stroke="#000" stroke-width="1.8"/>
<text x="413" y="622.3" font-size="19" textLength="191.4" lengthAdjust="spacingAndGlyphs">Trace Hole 2024-2023</text>
<text x="349.2" y="656.6" font-size="22" font-weight="bold" textLength="111.4" lengthAdjust="spacingAndGlyphs">Mine Level</text>
<rect x="348.2" y="670.5" width="52.4" height="26.8" fill="#ffaa00" stroke="#6e6e6e" stroke-width="0.7"/>
<text x="410.7" y="691.1" font-size="19" textLength="89.5" lengthAdjust="spacingAndGlyphs">Level -100</text>
<rect x="348.2" y="706.5" width="52.4" height="26.8" fill="#00c5ff" stroke="#6e6e6e" stroke-width="0.7"/>
<text x="410.7" y="726.7" font-size="19" textLength="89.5" lengthAdjust="spacingAndGlyphs">Level -140</text>
<rect x="348.2" y="742.4" width="52.4" height="26.8" fill="#55ff00" stroke="#6e6e6e" stroke-width="0.7"/>
<text x="410.7" y="762.3" font-size="19" textLength="89.5" lengthAdjust="spacingAndGlyphs">Level -195</text>
</g>
<g id="scalebar">
<rect x="354.4" y="946.5" width="205.1" height="9.9" fill="#fff" stroke="#000" stroke-width="1.6"/>
<rect x="354.4" y="946.5" width="51.4" height="4.9" fill="#000"/>
<rect x="405.8" y="951.4" width="51.0" height="5.0" fill="#000"/>
<rect x="456.8" y="946.5" width="102.7" height="4.9" fill="#000"/>
<g font-size="13.4" text-anchor="middle"><text x="355.5" y="939.6">0</text><text x="405.8" y="939.6">20</text><text x="456.8" y="939.6">40</text><text x="558.8" y="939.6">80</text></g>
<text x="563.3" y="956.0" font-size="14" textLength="44" lengthAdjust="spacingAndGlyphs">Meters</text>
<text x="423.6" y="978.6" font-size="13" font-weight="bold" textLength="93.1" lengthAdjust="spacingAndGlyphs">Datum: WGS84</text>
</g>
<text x="950" y="984" font-size="20" font-weight="bold" fill="#000" stroke="#000" stroke-width="0.35" textLength="348.5" lengthAdjust="spacingAndGlyphs">PLAN VIEW KENA DRILL PROGRAM</text>
<text x="1532.4" y="1050.2" font-size="10.8" font-weight="bold" fill="#111" textLength="84.7" lengthAdjust="spacingAndGlyphs">Date: 2025-05-19</text>
<g id="logo" fill="none" stroke-linecap="round">
<path d="M1445.6 1021.4 Q1444.9 1015.5 1443.1 1009.8" stroke="#d99a5a" stroke-width="1.2" opacity="0.85"/>
<path d="M1444.0 1021.7 Q1441.7 1017.1 1440.2 1012.1" stroke="#f1cf7a" stroke-width="1.1" opacity="0.85"/>
<path d="M1451.2 1021.4 Q1452.5 1016.7 1453.0 1011.8" stroke="#e6a058" stroke-width="1.3" opacity="0.85"/>
<path d="M1454.1 1022.1 Q1455.8 1018.4 1458.3 1015.0" stroke="#dfa070" stroke-width="1.2" opacity="0.85"/>
<path d="M1447.9 1022.9 Q1447.6 1019.7 1447.3 1016.5" stroke="#f3dc8c" stroke-width="1.2" opacity="0.85"/>
<path d="M1449.8 1022.6 Q1450.0 1020.0 1450.1 1017.4" stroke="#f0c070" stroke-width="0.9" opacity="0.85"/>
<path d="M1457.4 1026.8 Q1463.3 1026.4 1468.8 1024.3" stroke="#e08060" stroke-width="1.2" opacity="0.85"/>
<path d="M1458.1 1029.7 Q1460.4 1029.0 1462.6 1028.3" stroke="#efa850" stroke-width="1.1" opacity="0.85"/>
<path d="M1458.1 1031.2 Q1464.1 1031.3 1469.9 1032.5" stroke="#f4c055" stroke-width="1.7" opacity="0.85"/>
<path d="M1458.7 1034.2 Q1460.1 1034.3 1461.5 1034.3" stroke="#f0b050" stroke-width="1.0" opacity="0.85"/>
<path d="M1457.4 1036.8 Q1462.3 1039.3 1467.7 1040.6" stroke="#f3d480" stroke-width="1.3" opacity="0.85"/>
<path d="M1455.8 1039.9 Q1460.3 1041.9 1464.2 1044.8" stroke="#dc6a4c" stroke-width="1.2" opacity="0.85"/>
<path d="M1454.7 1044.7 Q1455.9 1047.3 1457.8 1049.5" stroke="#cf6a50" stroke-width="1.2" opacity="0.85"/>
<path d="M1452.0 1041.8 Q1452.6 1045.4 1453.7 1048.9" stroke="#f2dc90" stroke-width="1.2" opacity="0.85"/>
<path d="M1448.1 1041.2 Q1448.5 1046.9 1447.9 1052.5" stroke="#e27a50" stroke-width="1.3" opacity="0.85"/>
<path d="M1445.6 1042.4 Q1444.9 1045.3 1444.9 1048.3" stroke="#eb9a50" stroke-width="1.1" opacity="0.85"/>
<path d="M1443.7 1041.2 Q1443.5 1043.1 1443.3 1045.0" stroke="#e6a060" stroke-width="1.0" opacity="0.85"/>
<path d="M1443.3 1041.7 Q1439.0 1044.5 1435.6 1048.3" stroke="#f2cf60" stroke-width="1.5" opacity="0.85"/>
<path d="M1439.2 1036.6 Q1433.1 1039.0 1428.5 1043.7" stroke="#f4d070" stroke-width="1.8" opacity="0.85"/>
<path d="M1439.1 1033.7 Q1436.2 1034.0 1433.3 1034.3" stroke="#eeb060" stroke-width="1.1" opacity="0.85"/>
<path d="M1439.1 1030.3 Q1432.6 1029.5 1426.4 1027.4" stroke="#f3c860" stroke-width="1.8" opacity="0.85"/>
<path d="M1440.3 1026.8 Q1437.1 1023.5 1433.3 1021.0" stroke="#df6a48" stroke-width="1.9" opacity="0.85"/>
<path d="M1440.2 1028.5 Q1438.8 1028.0 1437.3 1027.4" stroke="#e89050" stroke-width="1.0" opacity="0.85"/>
<path d="M1443.4 1021.4 Q1442.6 1019.3 1441.7 1017.1" stroke="#e8b070" stroke-width="0.9" opacity="0.85"/>
<path d="M1453.3 1022.6 Q1454.3 1020.9 1455.3 1019.1" stroke="#e8a868" stroke-width="0.9" opacity="0.85"/>
<path d="M1456.5 1038.3 Q1458.5 1039.8 1460.6 1041.2" stroke="#f0c878" stroke-width="0.9" opacity="0.85"/>
<defs><linearGradient id="sg" x1="0" y1="0" x2="1" y2="0.3"><stop offset="0" stop-color="#f4c04a"/><stop offset="0.5" stop-color="#ec9a4a"/><stop offset="1" stop-color="#dc6a48"/></linearGradient></defs>
<circle cx="1448.7" cy="1031.9" r="8.1" fill="#fff" stroke="url(#sg)" stroke-width="1.4"/>
<text x="1374.2" y="1062.6" font-size="7.2" fill="#a0a0a0" stroke="none" textLength="152" lengthAdjust="spacing">IMPACT SILVER CORP</text>
</g>
</g>
</svg></body></html>
